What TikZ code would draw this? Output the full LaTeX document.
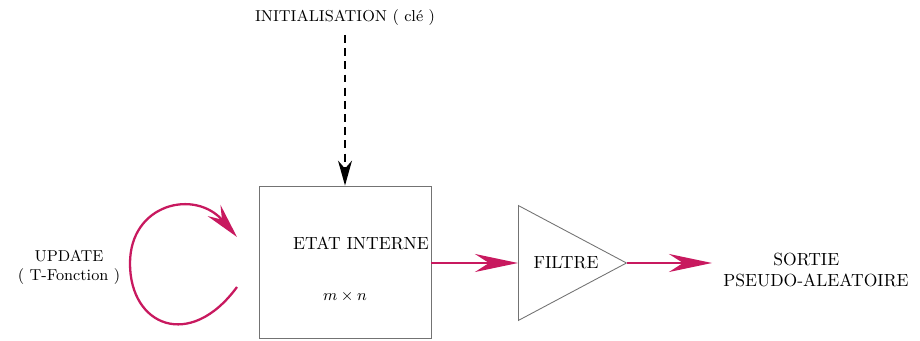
\documentclass[tikz,border=0pt]{standalone}
\usepackage{amsmath,amssymb}
\usepackage[dvipsnames]{xcolor}
\usetikzlibrary{arrows.meta,shapes.geometric}
\definecolor{flux}{RGB}{200,25,95}

\begin{document}
\begin{tikzpicture}[
        fleche/.style={draw=flux, line width=1.3pt, -{Stealth[length=8.6mm, width=3.6mm, inset=2.8mm]}},
        bloc/.style={draw=black!55, line width=0.5pt},
        texte/.style={font=\small, align=center}
    ]
            \useasboundingbox (0,0) rectangle (18.4,6.82);

            % Draw the internal state and the filter
            \node[bloc, minimum width=3.44cm, minimum height=3.04cm] (etat) at (6.9,1.58) {};
            \node[texte, font=\normalsize] (nometat) at (7.22,1.96) {ETAT INTERNE};
            \node[texte] (taille) at (6.9,0.88) {$m \times n$};
            \node[bloc, isosceles triangle, isosceles triangle apex angle=56, minimum height=2.16cm,
                  inner sep=0pt, anchor=lower side] (filtre) at (10.36,1.56) {};
            \node[texte, font=\normalsize] (nomfiltre) at (11.32,1.56) {FILTRE};

            % Add labels around it
            \node[texte] (init) at (6.9,6.46) {INITIALISATION ( cl\'e )};
            \node[texte] (update) at (1.38,1.48) {UPDATE\\( T-Fonction )};
            \node[texte, font=\normalsize, align=left] (sortie) at (16.32,1.42) {\hspace*{1cm}SORTIE\\PSEUDO-ALEATOIRE};

            % Add the arrows
            \coordinate (debut) at (6.9,6.12);
            \draw[dash pattern=on 4.5pt off 3pt, line width=0.7pt,
                  -{Stealth[length=5mm, width=2.8mm, inset=1.6mm]}] (debut) -- (etat.north);
            \draw[fleche] (etat.east |- filtre.lower side) -- (filtre.lower side);
            \coordinate (sortiefin) at (14.24,1.56);
            \draw[fleche] (filtre.apex) -- (sortiefin);
            \coordinate (bouclea) at (4.74,1.08);
            \coordinate (boucleb) at (4.74,2.08);
            \draw[fleche, -{Stealth[length=7mm, width=3.4mm, inset=2.4mm]}] (bouclea)
                .. controls (3.8,-0.2) and (2.6,0.3) .. (2.6,1.55)
                .. controls (2.6,2.75) and (3.9,3.05) .. (boucleb);
        \end{tikzpicture}
\end{document}
